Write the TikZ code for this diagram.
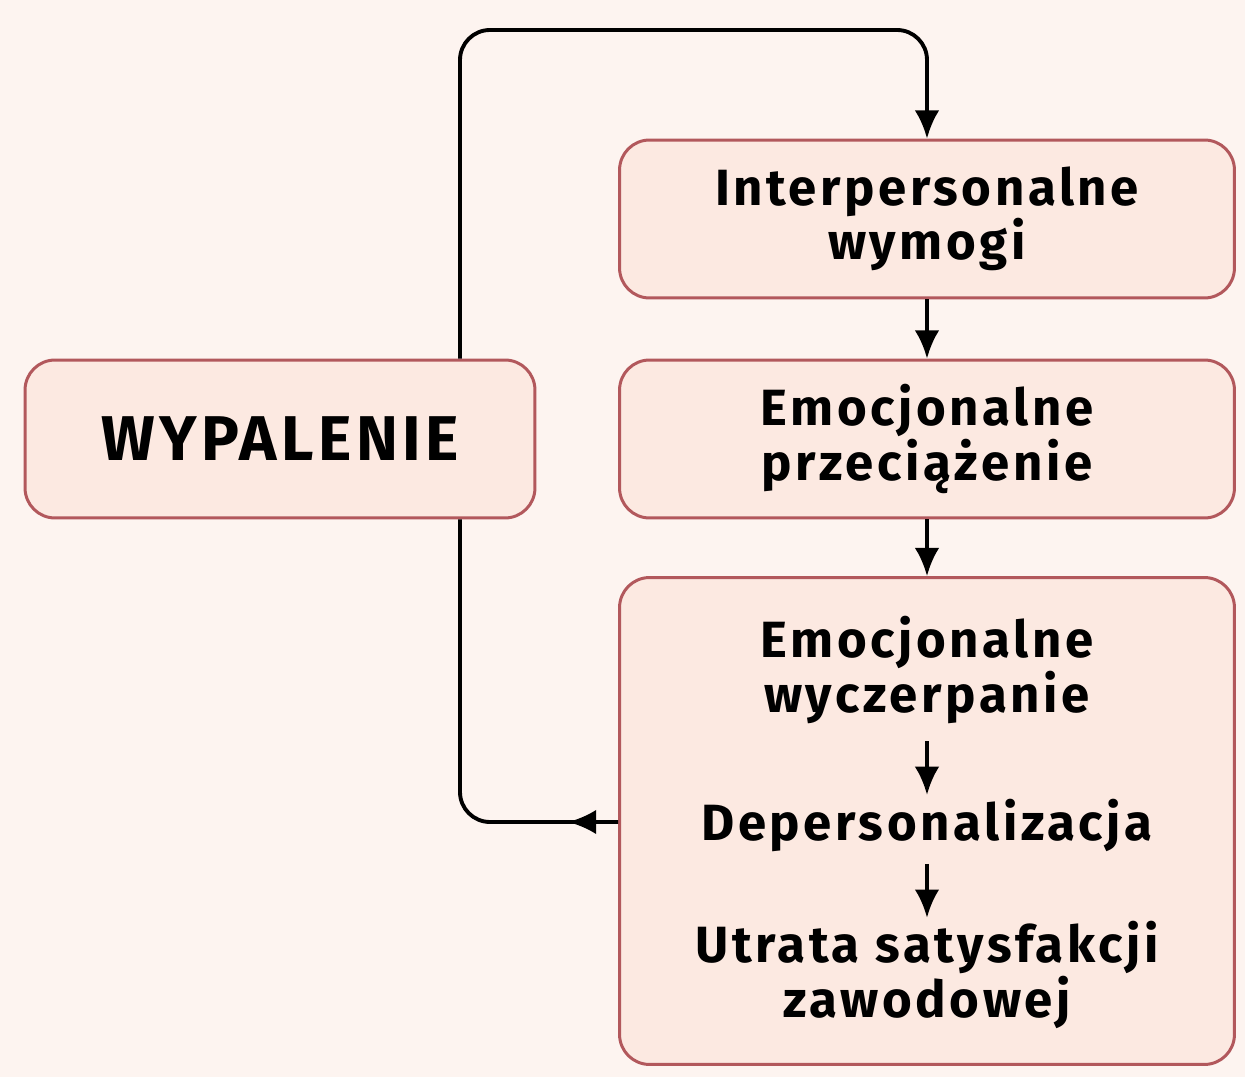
\documentclass[tikz,border=0pt]{standalone}
\usepackage{fontspec}
\setmainfont{Fira Sans}[LetterSpace=7]
\usepackage{tikz}
\usetikzlibrary{arrows.meta}
\definecolor{tlo}{RGB}{253,244,240}
\definecolor{ramka}{RGB}{178,88,92}
\definecolor{wypel}{RGB}{252,233,225}

\begin{document}
\begin{tikzpicture}[x=0.02cm, y=-0.02cm, >={Latex[length=16pt, width=14pt]},
    box/.style={draw=ramka, fill=wypel, line width=1.7pt, rounded corners=0.6cm, align=center,
                font=\bfseries\fontsize{29}{28.5}\selectfont, inner sep=0pt},
    txt/.style={align=center, font=\bfseries\fontsize{29}{28.5}\selectfont, inner sep=2pt},
    line/.style={line width=2.2pt}]
    \fill[tlo] (0,0) rectangle (1245,1077);

    \node[box, minimum width=12.3cm, minimum height=3.16cm] (inter) at (927,219) {Interpersonalne\\wymogi};
    \node[box, minimum width=12.3cm, minimum height=3.16cm] (przec) at (927,439) {Emocjonalne\\przeciążenie};
    \node[box, minimum width=12.3cm, minimum height=9.74cm] (duzy) at (927,821) {};
    \node[box, minimum width=10.2cm, minimum height=3.16cm, font=\bfseries\fontsize{36}{38}\selectfont] (wyp) at (280,439) {WYPALENIE};

    \node[txt] (wyczerp) at (927,670) {Emocjonalne\\wyczerpanie};
    \node[txt] (deper) at (927,825) {Depersonalizacja};
    \node[txt] (utrata) at (927,975) {Utrata satysfakcji\\zawodowej};

    \coordinate (lg) at (460,30);
    \coordinate (pg) at (927,30);
    \coordinate (ld) at (460,822);

    \draw[line, ->, rounded corners=0.6cm] (wyp.north -| lg) -- (lg) -- (pg) -- (inter.north);
    \draw[line, ->] (inter) -- (przec);
    \draw[line, ->] (przec) -- (duzy);
    \draw[line, ->, shorten <=8pt] (wyczerp) -- (deper);
    \draw[line, ->, shorten <=5pt] (deper) -- (utrata);

    \draw[line, ->] (duzy.west |- ld) -- ++(-50,0);
    \draw[line, rounded corners=0.6cm] (duzy.west |- ld) -- (ld) -- (wyp.south -| ld);
\end{tikzpicture}
\end{document}
